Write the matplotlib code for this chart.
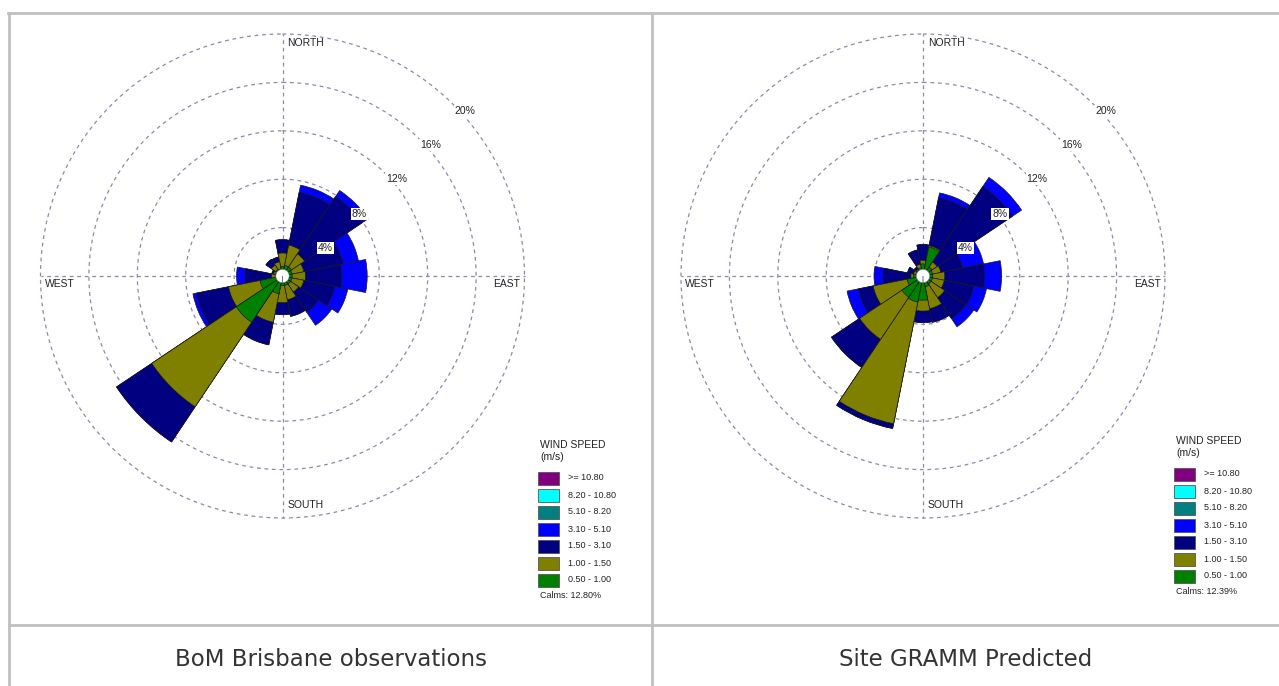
import numpy as np
import matplotlib
matplotlib.use("Agg")
import matplotlib.pyplot as plt
from matplotlib.patches import Rectangle
from matplotlib.lines import Line2D

W, H = 1279, 686

directions = ["N", "NNE", "NE", "ENE", "E", "ESE", "SE", "SSE",
              "S", "SSW", "SW", "WSW", "W", "WNW", "NW", "NNW"]

# Frequency (%) per direction for each wind-speed class
bom_050_100 = [0.8, 0.9, 0.9, 0.8, 0.8, 0.8, 0.8, 0.8, 0.8, 1.5, 4.6, 1.9, 0.6, 0.6, 0.65, 0.6]
bom_100_150 = [1.1, 1.7, 1.3, 1.0, 1.1, 1.0, 0.8, 1.2, 1.4, 2.4, 8.4, 2.65, 0.3, 0.15, 0.45, 0.6]
bom_150_310 = [1.1, 4.45, 5.7, 3.3, 3.0, 2.6, 2.0, 1.4, 1.0, 1.9, 3.5, 2.7, 2.2, 0.15, 0.55, 0.4]
bom_310_510 = [0.0, 0.6, 0.6, 1.3, 2.1, 1.1, 1.3, 0.0, 0.0, 0.0, 0.0, 0.3, 0.7, 0.0, 0.0, 0.0]
bom_calms = 12.80

gramm_050_100 = [1.0, 2.45, 0.9, 0.8, 0.8, 0.8, 0.8, 0.9, 2.0, 2.2, 2.1, 1.35, 0.8, 0.6, 0.6, 0.7]
gramm_100_150 = [0.3, 0.1, 0.5, 0.7, 1.0, 1.0, 1.35, 1.85, 0.9, 10.25, 4.2, 2.85, 0.2, 0.2, 0.1, 0.3]
gramm_150_310 = [1.3, 4.05, 7.5, 1.85, 3.3, 2.5, 2.1, 1.15, 0.95, 0.4, 2.8, 1.25, 2.3, 0.5, 0.2, 1.2]
gramm_310_510 = [0.0, 0.4, 0.9, 1.75, 1.4, 1.05, 0.8, 0.0, 0.0, 0.0, 0.0, 0.95, 0.75, 0.0, 0.0, 0.0]
gramm_calms = 12.39

speed_labels = [">= 10.80", "8.20 - 10.80", "5.10 - 8.20", "3.10 - 5.10",
                "1.50 - 3.10", "1.00 - 1.50", "0.50 - 1.00"]
speed_colors = ["#800080", "#00FFFF", "#008080", "#0000FF",
                "#000080", "#808000", "#008000"]
ring_values = [4, 8, 12, 16, 20]
captions = ["BoM Brisbane observations", "Site GRAMM Predicted"]

# colours of the four classes that carry data, lowest speed first
class_colors = ["#008000", "#808000", "#000080", "#0000FF"]

PX_PER_PCT = 12.1
R_MAX = 21.0
CALM_R = 0.55
RING_COLOR = "#8a8aaa"
TEXT_COLOR = "#222222"

fig = plt.figure(figsize=(W / 100, H / 100), dpi=100)
fig.patch.set_facecolor("white")


def fx(px):
    return px / W


def fy(py):
    return 1 - py / H


def draw_rose(cx, cy, classes, calms, legend_xy):
    hs = R_MAX * PX_PER_PCT
    ax = fig.add_axes([fx(cx - hs), fy(cy + hs), 2 * hs / W, 2 * hs / H],
                      projection="polar")
    ax.set_theta_zero_location("N")
    ax.set_theta_direction(-1)
    ax.set_ylim(0, R_MAX)
    ax.set_xticks([])
    ax.set_yticks([])
    ax.grid(False)
    ax.spines["polar"].set_visible(False)
    ax.patch.set_alpha(0)

    # dashed rings and compass spokes
    t = np.linspace(0, 2 * np.pi, 400)
    for v in ring_values:
        ax.plot(t, np.full_like(t, v), ls=(0, (3, 3)), color=RING_COLOR,
                lw=0.9, zorder=1)
    for ang in (0, 90, 180, 270):
        ax.plot([np.deg2rad(ang)] * 2, [0, ring_values[-1]], ls=(0, (3, 3)),
                color=RING_COLOR, lw=0.9, zorder=1)

    theta = np.deg2rad(np.arange(16) * 22.5)
    width = np.deg2rad(22.5)
    cum = np.cumsum(np.array(classes), axis=0)
    for k in range(len(classes) - 1, -1, -1):
        ax.bar(theta, cum[k], width=width, bottom=0, color=class_colors[k],
               edgecolor="#1a1a1a", linewidth=0.5, zorder=2)
    # calm circle in the middle
    ax.bar(0, CALM_R, width=2 * np.pi, bottom=0, color="white",
           edgecolor="#777777", linewidth=0.4, zorder=3)

    # ring labels along the north-east diagonal
    for v in ring_values:
        ax.annotate(f"{v}%", xy=(np.deg2rad(45), v), xytext=(1, -1),
                    textcoords="offset pixels", ha="left", va="top",
                    fontsize=7.5, family="Liberation Sans", color=TEXT_COLOR,
                    bbox=dict(boxstyle="square,pad=0.1", fc="white", ec="none"),
                    zorder=5)

    rmax = ring_values[-1]
    lab = dict(fontsize=7.5, family="Liberation Sans", color=TEXT_COLOR,
               textcoords="offset pixels", zorder=5)
    ax.annotate("NORTH", xy=(0, rmax), xytext=(5, -4), ha="left", va="top", **lab)
    ax.annotate("SOUTH", xy=(np.pi, rmax), xytext=(5, 8), ha="left", va="bottom", **lab)
    ax.annotate("WEST", xy=(1.5 * np.pi, rmax), xytext=(4, -3), ha="left", va="top", **lab)
    ax.annotate("EAST", xy=(0.5 * np.pi, rmax), xytext=(-4, -3), ha="right", va="top", **lab)

    # legend
    lx, ly = legend_xy
    fig.text(fx(lx), fy(ly), "WIND SPEED", fontsize=7.5, family="Liberation Sans",
             color=TEXT_COLOR, va="center", ha="left")
    fig.text(fx(lx), fy(ly + 12), "(m/s)", fontsize=7.5, family="Liberation Sans",
             color=TEXT_COLOR, va="center", ha="left")
    for i, (lbl, col) in enumerate(zip(speed_labels, speed_colors)):
        yc = ly + 33 + i * 17
        fig.patches.append(Rectangle((fx(lx - 2), fy(yc + 6.5)), 21 / W, 13 / H,
                                     transform=fig.transFigure, facecolor=col,
                                     edgecolor="#555555", linewidth=0.6))
        fig.text(fx(lx + 28), fy(yc), lbl, fontsize=6.5, family="Liberation Sans",
                 color=TEXT_COLOR, va="center", ha="left")
    fig.text(fx(lx), fy(ly + 150), f"Calms: {calms:.2f}%", fontsize=6.5,
             family="Liberation Sans", color=TEXT_COLOR, va="center", ha="left")
    return ax


draw_rose(282.5, 276,
          [bom_050_100, bom_100_150, bom_150_310, bom_310_510],
          bom_calms, (540, 445))
draw_rose(923, 276,
          [gramm_050_100, gramm_100_150, gramm_150_310, gramm_310_510],
          gramm_calms, (1176, 441))

# table borders
border = dict(color="#c0c0c0", lw=2, transform=fig.transFigure)
fig.lines.append(Line2D([fx(8), fx(1279)], [fy(13), fy(13)], **border))
fig.lines.append(Line2D([fx(9), fx(9)], [fy(13), fy(686)], **border))
fig.lines.append(Line2D([fx(652), fx(652)], [fy(13), fy(686)], **border))
fig.lines.append(Line2D([fx(9), fx(1279)], [fy(625), fy(625)], **border))

fig.text(fx(331), fy(659), captions[0], fontsize=16.5, family="DejaVu Sans",
         color="#333333", ha="center", va="center")
fig.text(fx(966), fy(659), captions[1], fontsize=16.5, family="DejaVu Sans",
         color="#333333", ha="center", va="center")

fig.savefig("out.png", dpi=100, facecolor="white")
